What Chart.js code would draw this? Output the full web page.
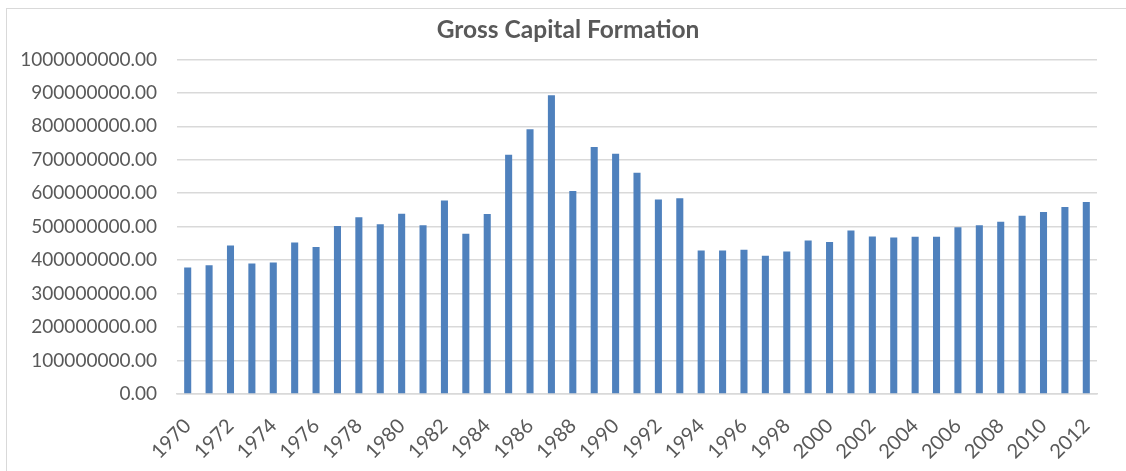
<!DOCTYPE html>
<html>
<head>
<meta charset="utf-8">
<script src="https://cdn.jsdelivr.net/npm/chart.js@4/dist/chart.umd.min.js"></script>
<style>
  html, body { margin: 0; padding: 0; background: #ffffff; overflow: hidden; }
  #frame {
    position: absolute;
    left: 6px;
    top: 8px;
    width: 1124px;
    height: 470px;
    border: 1px solid #d9d9d9;
    box-sizing: border-box;
  }
</style>
</head>
<body>
<div id="frame"><canvas id="chart"></canvas></div>
<script>
const years = [
  1970, 1971, 1972, 1973, 1974, 1975, 1976, 1977, 1978, 1979,
  1980, 1981, 1982, 1983, 1984, 1985, 1986, 1987, 1988, 1989,
  1990, 1991, 1992, 1993, 1994, 1995, 1996, 1997, 1998, 1999,
  2000, 2001, 2002, 2003, 2004, 2005, 2006, 2007, 2008, 2009,
  2010, 2011, 2012
];

// Gross capital formation
const grossCapital = [
  378e6, 385e6, 444e6, 390e6, 393e6, 453e6, 439e6, 502e6, 528e6, 507e6,
  539e6, 504e6, 578e6, 479e6, 538e6, 715e6, 791e6, 893e6, 607e6, 738e6,
  718e6, 661e6, 581e6, 585e6, 429e6, 429e6, 431e6, 413e6, 426e6, 459e6,
  454e6, 489e6, 471e6, 468e6, 470e6, 470e6, 498e6, 504e6, 515e6, 533e6,
  544e6, 559e6, 574e6
];

const yTicks = [0, 1e8, 2e8, 3e8, 4e8, 5e8, 6e8, 7e8, 8e8, 9e8, 1e9];

const textColor = '#595959';
const gridColor = '#d9d9d9';
const fontFamily = 'Lato, "Open Sans", Arial, sans-serif';

// Centre the title on the whole frame, not on the padded layout box.
const centerTitlePlugin = {
  id: 'centerTitle',
  afterLayout: (chart) => {
    const title = chart.titleBlock;
    if (title) {
      title.left = 0;
      title.right = chart.width;
      title.width = chart.width;
    }
  }
};

const config = {
  type: 'bar',
  data: {
    labels: years.map(String),
    datasets: [{
      data: grossCapital,
      backgroundColor: '#4f81bd',
      categoryPercentage: 1,
      barPercentage: 0.33
    }]
  },
  options: {
    responsive: true,
    maintainAspectRatio: false,
    animation: false,
    layout: {
      padding: {left: 0, right: 32, top: 0, bottom: 0}
    },
    plugins: {
      legend: {display: false},
      tooltip: {enabled: false},
      title: {
        display: true,
        text: 'Gross Capital Formation',
        color: textColor,
        font: {family: fontFamily, size: 24.5, weight: 'bold'},
        padding: {top: 6, bottom: 15}
      }
    },
    scales: {
      x: {
        grid: {display: false, drawTicks: false},
        border: {color: gridColor, width: 1.5},
        ticks: {
          autoSkip: false,
          minRotation: 45,
          maxRotation: 45,
          padding: 20,
          color: textColor,
          font: {family: fontFamily, size: 20},
          // every second year only
          callback: function(value, index) {
            return index % 2 === 0 ? this.getLabelForValue(value) : '';
          }
        },
        afterFit: (scale) => { scale.height = 83; }
      },
      y: {
        min: 0,
        max: 1e9,
        afterBuildTicks: (scale) => {
          scale.ticks = yTicks.map(v => ({value: v}));
        },
        grid: {color: gridColor, lineWidth: 1.5, drawTicks: false},
        border: {display: false},
        ticks: {
          padding: 20,
          color: textColor,
          font: {family: fontFamily, size: 19},
          callback: (value) => Number(value).toFixed(2)
        },
        afterFit: (scale) => { scale.width = 170; }
      }
    }
  },
  plugins: [centerTitlePlugin]
};

new Chart(document.getElementById('chart'), config);
</script>
</body>
</html>
